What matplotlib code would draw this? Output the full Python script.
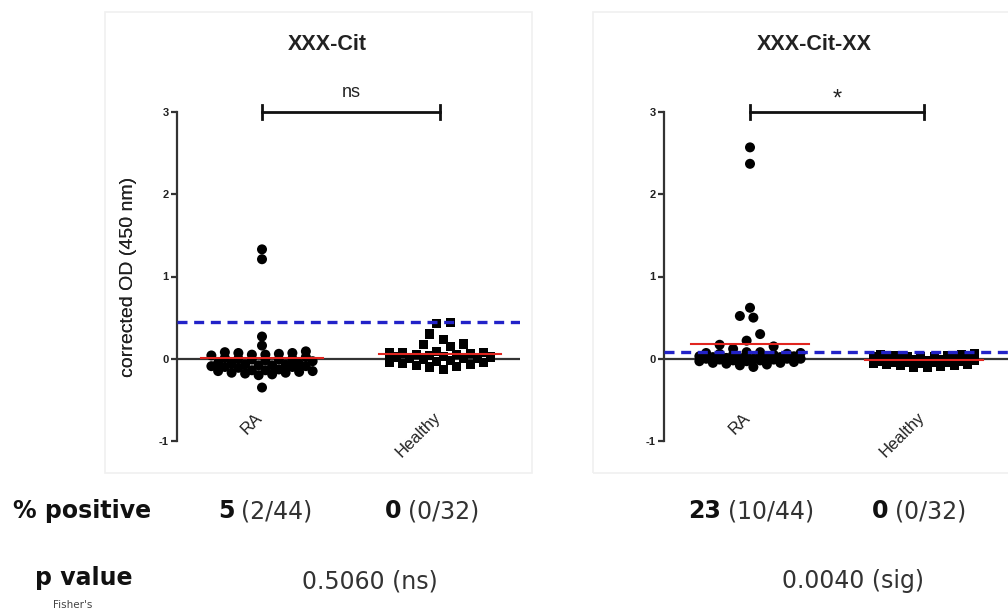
import numpy as np
import matplotlib
matplotlib.use("Agg")
import matplotlib.pyplot as plt
from matplotlib.patches import Rectangle
from matplotlib.text import Annotation

# ---------------- data ----------------
categories = ["RA", "Healthy"]
panel_titles = ["XXX-Cit", "XXX-Cit-XX"]
sig_labels = ["ns", "*"]
cutoffs = [0.45, 0.085]

ra_cit = [1.33, 1.21, 0.27, 0.16, -0.35,
          0.09, 0.08, 0.07, 0.07, 0.06, 0.05, 0.05, 0.04,
          0.02, 0.01, 0.0, 0.0, -0.01, -0.01, -0.02, -0.03,
          -0.05, -0.06, -0.06, -0.07, -0.07, -0.08, -0.08, -0.09, -0.09, -0.10, -0.10, -0.11,
          -0.13, -0.14, -0.14, -0.15, -0.15, -0.16, -0.17, -0.17, -0.18, -0.19, -0.20]
healthy_cit = [0.44, 0.43, 0.30, 0.23, 0.18, 0.17, 0.15,
               0.09, 0.08, 0.08, 0.07, 0.06, 0.05, 0.05, 0.04, 0.03, 0.02, 0.02, 0.01,
               0.0, 0.0, -0.01, -0.02, -0.03, -0.04, -0.05, -0.06, -0.07, -0.08, -0.09, -0.10, -0.13]
ra_citxx = [2.57, 2.37, 0.62, 0.52, 0.50, 0.30, 0.22, 0.17, 0.15, 0.12,
            0.08, 0.08, 0.07, 0.07, 0.06, 0.06, 0.05, 0.05,
            0.04, 0.04, 0.03, 0.03, 0.02, 0.02, 0.01, 0.01, 0.01,
            0.0, 0.0, 0.0, 0.0, -0.01, -0.01, -0.02, -0.02, -0.03, -0.03,
            -0.04, -0.05, -0.05, -0.06, -0.07, -0.08, -0.10]
healthy_citxx = [0.06, 0.05, 0.05, 0.04, 0.04, 0.03, 0.03, 0.02, 0.02, 0.01, 0.01,
                 0.0, 0.0, -0.01, -0.01, -0.02, -0.02, -0.03, -0.03, -0.04, -0.04,
                 -0.05, -0.05, -0.06, -0.06, -0.07, -0.07, -0.08, -0.08, -0.09, -0.10, -0.11]

pct_bold = [["5", "0"], ["23", "0"]]
pct_frac = [["(2/44)", "(0/32)"], ["(10/44)", "(0/32)"]]
p_values = ["0.5060 (ns)", "0.0040 (sig)"]
y_ticks = [-1, 0, 1, 2, 3]

# ---------------- figure ----------------
W, H = 1008, 612
fig = plt.figure(figsize=(W / 100, H / 100), dpi=100)
plt.rcParams['font.family'] = ['Liberation Sans', 'DejaVu Sans']


def fx(px):
    return px / W


def fy(py):
    return 1 - py / H


# panel frames
for (x0, x1) in [(105, 532), (593, 1012)]:
    fig.patches.append(Rectangle((fx(x0), fy(473)), fx(x1 - x0), (473 - 12) / H,
                                 transform=fig.transFigure, fill=False,
                                 edgecolor='#f0f0f0', linewidth=1.2, zorder=0))


def column_layout(ax, x0, values, bin_size, max_n, spacing_px):
    """Prism-like column scatter: nearby values sit side by side in staggered rows."""
    vals = np.asarray(values, float)
    order = np.argsort(vals)
    rows, cur, start = [], [], None
    for i in order:
        if cur and (vals[i] - start >= bin_size or len(cur) >= max_n):
            rows.append(cur)
            cur = []
        if not cur:
            start = vals[i]
        cur.append(i)
    if cur:
        rows.append(cur)
    offs = np.zeros(len(vals))
    for r, row in enumerate(rows):
        n = len(row)
        shift = (0.25 if r % 2 else -0.25) * spacing_px if n > 1 else 0.0
        pos = (np.arange(n) - (n - 1) / 2) * spacing_px + shift
        pos_order = sorted(range(n), key=lambda p: abs(pos[p]))
        for idx, p in zip(row, pos_order):
            offs[idx] = pos[p]
    trans = ax.transData
    ppu = trans.transform([[1, 0]])[0, 0] - trans.transform([[0, 0]])[0, 0]
    return x0 + offs / ppu


panels = [
    dict(data=[ra_cit, healthy_cit], left=177, right=520, cat_px=(262, 440)),
    dict(data=[ra_citxx, healthy_citxx], left=664, right=1008, cat_px=(750, 924)),
]
top_px, bot_px = 112, 441

for k, pnl in enumerate(panels):
    ax = fig.add_axes([fx(pnl['left']), fy(bot_px), fx(pnl['right'] - pnl['left']),
                       (bot_px - top_px) / H])
    c0, c1 = pnl['cat_px']
    ppu = c1 - c0
    ax.set_xlim((pnl['left'] - c0) / ppu, (pnl['right'] - c0) / ppu)
    ax.set_ylim(-1, 3)
    ax.patch.set_alpha(0)
    for s in ['top', 'right', 'bottom']:
        ax.spines[s].set_visible(False)
    ax.spines['left'].set_color('#333333')
    ax.spines['left'].set_linewidth(1.6)
    ax.set_xticks([])
    ax.set_yticks(y_ticks)
    ax.set_yticklabels([str(t) for t in y_ticks])
    ax.tick_params(axis='y', length=4, width=1.6, color='#333333', labelsize=8,
                   pad=2, labelcolor='#222222')
    for lab in ax.get_yticklabels():
        lab.set_fontweight('bold')
    ax.set_ylabel("corrected OD (450 nm)", fontsize=14, color='#222222')
    ax.yaxis.set_label_coords((137 - pnl['left']) / (pnl['right'] - pnl['left']), 0.5)

    ax.axhline(0, color='#333333', lw=1.6, zorder=2)

    markers = ['o', 's']
    sizes = [52, 44]
    for j, vals in enumerate(pnl['data']):
        xs = column_layout(ax, j, vals, 0.1, 8, 13.5)
        ax.scatter(xs, vals, marker=markers[j], s=sizes[j], color='black',
                   edgecolors='none', zorder=3, clip_on=False)
        m = float(np.mean(vals))
        ax.plot([j - 0.34, j + 0.34], [m, m], color='#e0251f', lw=1.5, zorder=4)

    ax.axhline(cutoffs[k], color='#2222c8', lw=2.4, dashes=(3, 2), zorder=5)

    # significance bracket
    ax.plot([0, 1], [3, 3], color='#111111', lw=2, clip_on=False, zorder=6)
    for xx in (0, 1):
        ax.plot([xx, xx], [2.91, 3.09], color='#111111', lw=2, clip_on=False, zorder=6)
    if sig_labels[k] == 'ns':
        ax.text(0.5, 3.13, sig_labels[k], ha='center', va='bottom', fontsize=13,
                color='#222222')
    else:
        ax.text(0.5, 3.02, sig_labels[k], ha='center', va='bottom', fontsize=17,
                color='#222222')

    # category labels
    for j, cat in enumerate(categories):
        ax.text(j + 0.02, -0.62, cat, rotation=45, ha='right', va='top', fontsize=12,
                color='#222222')

    # title
    fig.text(fx(327 if k == 0 else 814), fy(45),
             panel_titles[k], ha='center', va='center', fontsize=15.5,
             fontweight='bold', color='#222222')

# ---------------- bottom table ----------------
tfont = ['DejaVu Sans']
fig.text(fx(13), fy(518), "% positive", fontsize=17, fontweight='bold', family=tfont,
         va='baseline', color='#111111')
fig.text(fx(35), fy(585), "p value", fontsize=17, fontweight='bold', family=tfont,
         va='baseline', color='#111111')
fig.text(fx(53), fy(605), "Fisher's", fontsize=7.5, family=tfont, va='center',
         color='#444444')

pct_x = [[218, 385], [688, 872]]
for k in range(2):
    for j in range(2):
        t = fig.text(fx(pct_x[k][j]), fy(518), pct_bold[k][j], fontsize=17,
                     fontweight='bold', family=tfont, va='baseline', color='#111111')
        fig.add_artist(Annotation(pct_frac[k][j], xy=(1, 0), xycoords=t,
                                  xytext=(5, 0), textcoords='offset points',
                                  fontsize=17, family=tfont, color='#333333',
                                  va='bottom'))

p_x = [302, 782]
for k in range(2):
    fig.text(fx(p_x[k]), fy(588), p_values[k], fontsize=17, family=tfont, va='baseline',
             color='#333333')

fig.savefig("out.png", dpi=100, facecolor='white')
